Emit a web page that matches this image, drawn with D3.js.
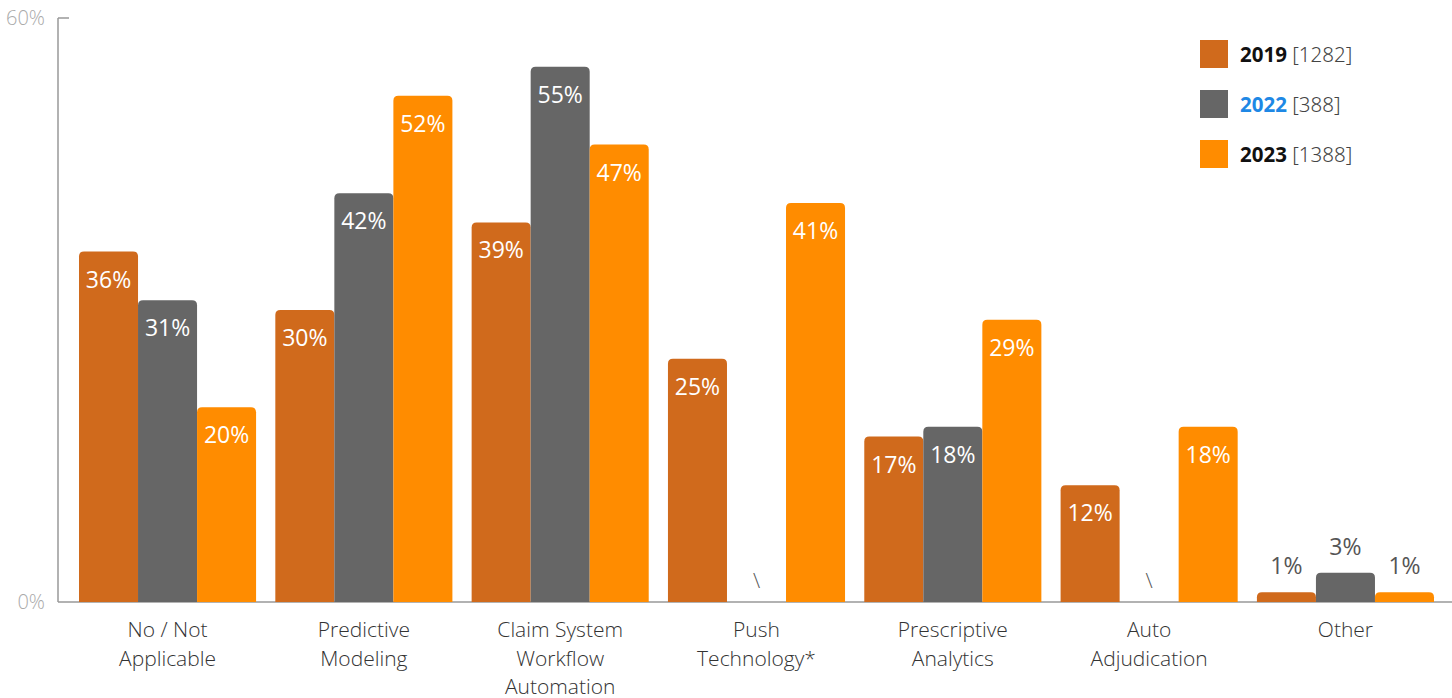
<!DOCTYPE html>
<html><head><meta charset="utf-8">
<script src="https://cdn.jsdelivr.net/npm/d3@7/dist/d3.min.js"></script>
<style>body{margin:0;background:#fff}svg{display:block}</style>
</head><body>
<svg id="c" width="1452" height="698"></svg>
<script>
const categories = [["No / Not","Applicable"],["Predictive","Modeling"],["Claim System","Workflow","Automation"],["Push","Technology*"],["Prescriptive","Analytics"],["Auto","Adjudication"],["Other"]];
const series = ["2019","2022","2023"];
const seriesN = ["[1282]","[388]","[1388]"];
const v2019 = [36,30,39,25,17,12,1];
const v2022 = [31,42,55,null,18,null,3];
const v2023 = [20,52,47,41,29,18,1];
const yTicks = [0,60];
const colors = ["#D06A1C","#666666","#FF8C00"];
const legendYearColors = ["#111","#1E88E5","#111"];
const values = [v2019,v2022,v2023];

const svg = d3.select("#c");
const font = "'Open Sans', sans-serif";
const y = d3.scaleLinear().domain([0,60]).range([602,18]);
const x0 = d3.scaleBand().domain(d3.range(categories.length)).range([79,1434]).paddingInner(0.098).paddingOuter(0);
const x1 = d3.scaleBand().domain(d3.range(series.length)).range([0,x0.bandwidth()]);

// axes
svg.append("line").attr("x1",58).attr("x2",58).attr("y1",y(60)).attr("y2",y(0)).attr("stroke","#999").attr("stroke-width",1.5);
svg.append("line").attr("x1",58).attr("x2",69).attr("y1",y(60)).attr("y2",y(60)).attr("stroke","#999").attr("stroke-width",1.5);
svg.append("line").attr("x1",58).attr("x2",1452).attr("y1",y(0)).attr("y2",y(0)).attr("stroke","#999").attr("stroke-width",1.5);
svg.selectAll(".yt").data(yTicks).enter().append("text")
  .attr("x",45).attr("y",d=>y(d)+7).attr("text-anchor","end")
  .attr("font-family",font).attr("font-weight",300).attr("font-size",20).attr("fill","#aaa").text(d=>d+"%");

function topRounded(x,yy,w,h,r){
  r=Math.min(r,h,w/2);
  return `M${x},${yy+h}V${yy+r}Q${x},${yy} ${x+r},${yy}H${x+w-r}Q${x+w},${yy} ${x+w},${yy+r}V${yy+h}Z`;
}

categories.forEach((cat,i)=>{
  series.forEach((s,j)=>{
    const v = values[j][i];
    const bx = x0(i)+x1(j), bw = x1.bandwidth();
    if(v==null){
      svg.append("text").attr("x",bx+bw/2).attr("y",y(0)-14).attr("text-anchor","middle")
        .attr("font-family",font).attr("font-weight",300).attr("font-size",21).attr("fill","#555").text("\\");
      return;
    }
    const top = y(v);
    svg.append("path").attr("d",topRounded(bx,top,bw,y(0)-top,5)).attr("fill",colors[j]);
    const inside = v>=5;
    svg.append("text").attr("x",bx+bw/2).attr("y",inside? top+36 : top-18).attr("text-anchor","middle")
      .attr("font-family",font).attr("font-weight",400).attr("font-size",23).attr("fill",inside?"#fff":"#555").text(v+"%");
  });
  const t = svg.append("text").attr("text-anchor","middle").attr("font-family",font).attr("font-weight",300)
    .attr("font-size",21).attr("fill","#333");
  cat.forEach((line,k)=>{
    t.append("tspan").attr("x",x0(i)+x0.bandwidth()/2).attr("y",637+k*28.5).text(line);
  });
});

// legend
series.forEach((s,j)=>{
  const ly = 40+j*50;
  svg.append("rect").attr("x",1200).attr("y",ly).attr("width",28).attr("height",28).attr("fill",colors[j]);
  const t = svg.append("text").attr("x",1240).attr("y",ly+22).attr("font-family","'Noto Sans', sans-serif").attr("font-size",20.5);
  t.append("tspan").attr("font-weight",700).attr("fill",legendYearColors[j]).text(s);
  t.append("tspan").attr("font-weight",300).attr("fill","#444").text(" "+seriesN[j]);
});
</script>
</body></html>
